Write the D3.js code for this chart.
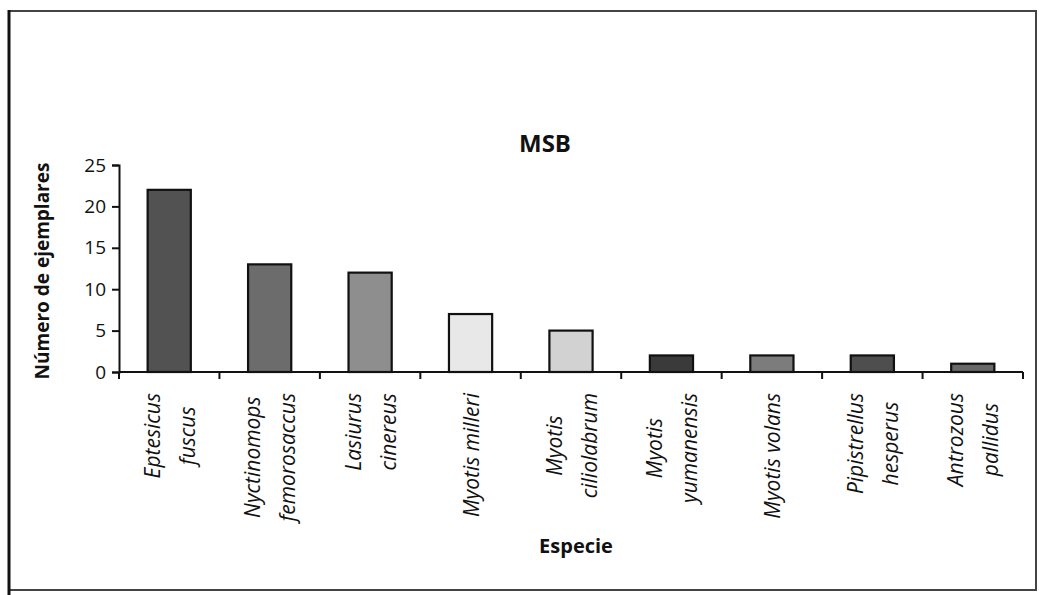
<!DOCTYPE html>
<html>
<head>
<meta charset="utf-8">
<script src="https://cdn.jsdelivr.net/npm/d3@7"></script>
<style>
  html, body { margin: 0; padding: 0; background: #fff; }
  svg { display: block; }
  text { font-family: "Open Sans", "DejaVu Sans", sans-serif; fill: #111; }
</style>
</head>
<body>
<svg id="chart" width="1039" height="595"></svg>
<script>
// Specimen counts per bat species (MSB collection)
const species = [
  ["Eptesicus", "fuscus"],
  ["Nyctinomops", "femorosaccus"],
  ["Lasiurus", "cinereus"],
  ["Myotis milleri"],
  ["Myotis", "ciliolabrum"],
  ["Myotis", "yumanensis"],
  ["Myotis volans"],
  ["Pipistrellus", "hesperus"],
  ["Antrozous", "pallidus"]
];
const counts = [22, 13, 12, 7, 5, 2, 2, 2, 1];
const barFills = ["#525252", "#6c6c6c", "#8e8e8e", "#e8e8e8", "#d2d2d2",
                  "#3a3a3a", "#7c7c7c", "#4e4e4e", "#686868"];
const yTicks = [0, 5, 10, 15, 20, 25];

const svg = d3.select("#chart");

// outer frame
svg.append("rect").attr("x", 9).attr("y", 11).attr("width", 1027).attr("height", 579)
  .attr("fill", "none").attr("stroke", "#444").attr("stroke-width", 2);
svg.append("line").attr("x1", 9).attr("x2", 9).attr("y1", 10).attr("y2", 595)
  .attr("stroke", "#111").attr("stroke-width", 3);

const x = d3.scaleBand().domain(d3.range(species.length)).range([119, 1023]);
const y = d3.scaleLinear().domain([0, 25]).range([372, 165]);

// bars
const bw = x.bandwidth() * 0.43;
svg.append("g").selectAll("rect").data(counts).join("rect")
  .attr("x", (d, i) => x(i) + (x.bandwidth() - bw) / 2)
  .attr("y", d => y(d))
  .attr("width", bw)
  .attr("height", d => y(0) - y(d))
  .attr("fill", (d, i) => barFills[i])
  .attr("stroke", "#111").attr("stroke-width", 2.2);

// y axis
const yAxis = svg.append("g").attr("transform", "translate(119,0)")
  .call(d3.axisLeft(y).tickValues(yTicks).tickSize(7).tickPadding(6));
yAxis.select(".domain").attr("stroke", "#111").attr("stroke-width", 2);
yAxis.selectAll(".tick line").attr("stroke", "#111").attr("stroke-width", 2);
yAxis.selectAll(".tick text").attr("font-size", 19).attr("fill", "#111")
  .style("font-family", "'Open Sans', sans-serif");

// x axis with ticks at category boundaries
const xAxisG = svg.append("g").attr("transform", "translate(0,372)");
xAxisG.append("line").attr("x1", 119).attr("x2", 1023).attr("y1", 0).attr("y2", 0)
  .attr("stroke", "#111").attr("stroke-width", 2);
const bounds = d3.range(species.length + 1).map(i => i < species.length ? x(i) : x.range()[1]);
xAxisG.selectAll("line.b").data(bounds).join("line").attr("class", "b")
  .attr("x1", d => d).attr("x2", d => d).attr("y1", 0).attr("y2", 7)
  .attr("stroke", "#111").attr("stroke-width", 2);

// rotated species labels, each block hung from just below the axis
const fs = 21, lineGap = 35, topY = 393;
const lab = svg.append("g");
species.forEach((lines, i) => {
  const cx = x(i) + x.bandwidth() / 2;
  const g = lab.append("g");
  const texts = lines.map((t, j) => {
    const lx = cx + (j - (lines.length - 1) / 2) * lineGap;
    return g.append("text")
      .attr("font-size", fs).attr("font-style", "italic")
      .attr("text-anchor", "middle").attr("dominant-baseline", "central")
      .text(t).datum(lx);
  });
  const maxLen = d3.max(texts, t => t.node().getComputedTextLength());
  const cy = topY + maxLen / 2;
  texts.forEach(t => {
    const lx = t.datum();
    t.attr("transform", `translate(${lx},${cy}) rotate(-90)`);
  });
});

// titles
svg.append("text").attr("x", 545).attr("y", 152).attr("text-anchor", "middle")
  .attr("font-size", 24).attr("font-weight", "bold").text("MSB");
svg.append("text").attr("x", 576).attr("y", 553).attr("text-anchor", "middle")
  .attr("font-size", 20).attr("font-weight", "bold").text("Especie");
svg.append("text").attr("transform", "translate(42,271) rotate(-90)")
  .attr("text-anchor", "middle").attr("dominant-baseline", "central")
  .attr("font-size", 19).attr("font-weight", "bold").text("Número de ejemplares");
</script>
</body>
</html>
